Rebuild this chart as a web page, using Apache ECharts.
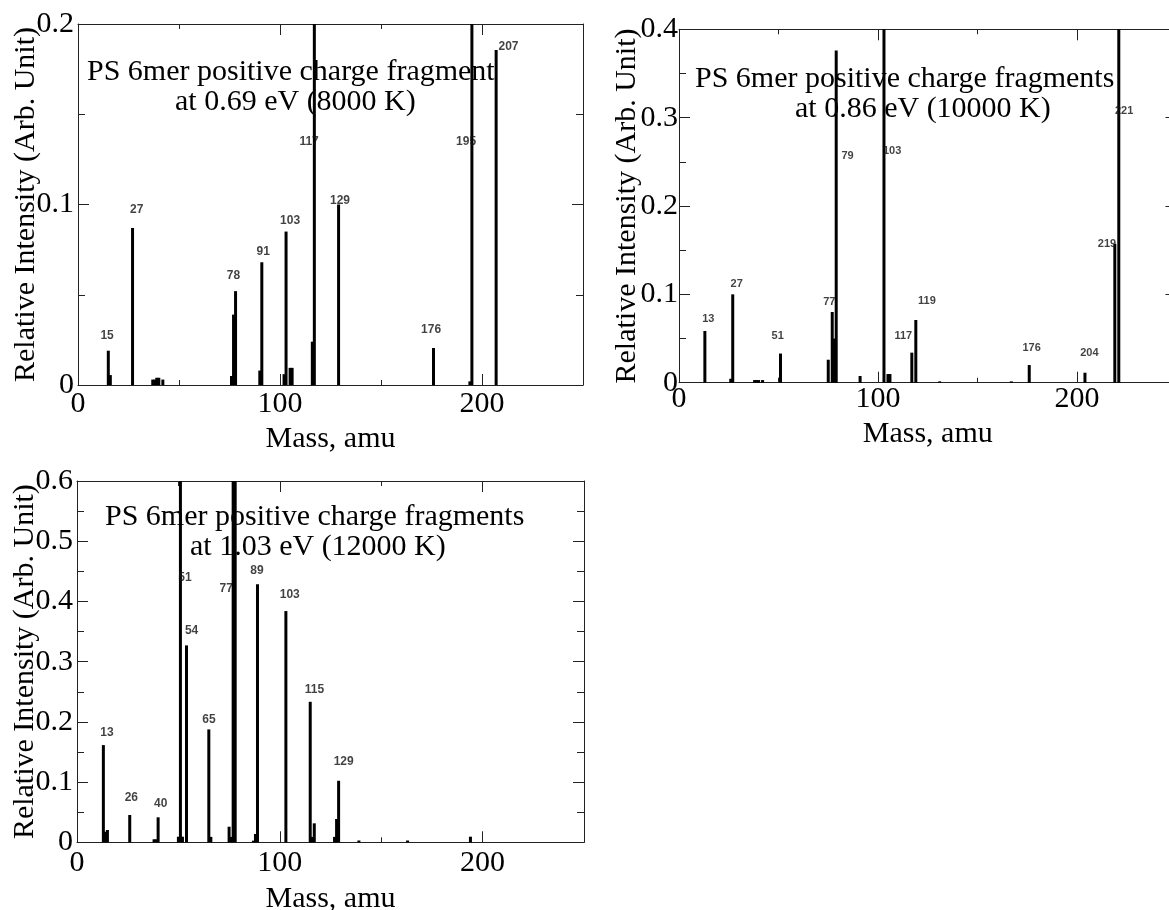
<!DOCTYPE html>
<html><head><meta charset="utf-8">
<script src="https://cdn.jsdelivr.net/npm/echarts@6/dist/echarts.min.js"></script>
<style>html,body{margin:0;padding:0;background:#fff}#c{width:1169px;height:910px}</style>
</head><body><div id="c"></div>
<script>
// ---------- Panel 1: 0.69 eV (8000 K) ----------
const mass1  = [15, 16, 27, 37, 38, 39, 40, 42, 76, 77, 78, 90, 91, 102, 103, 105, 106, 116, 117, 129, 176, 194, 195, 207];
const inten1 = [0.019, 0.0055, 0.087, 0.003, 0.003, 0.004, 0.004, 0.003, 0.005, 0.039, 0.052, 0.008, 0.068, 0.006, 0.085, 0.0095, 0.0095, 0.024, 0.25, 0.1, 0.0205, 0.002, 0.25, 0.1856];
const peakLabels1 = [[14.4,0.0271,'15'],[29.1,0.097,'27'],[77,0.0604,'78'],[91.7,0.0737,'91'],[105,0.0909,'103'],[114.4,0.1346,'117'],[129.7,0.102,'129'],[174.8,0.0305,'176'],[192.1,0.1346,'195'],[213.1,0.1875,'207']];
const title1 = ['PS 6mer positive charge fragment', 'at 0.69 eV (8000 K)'];
const yMax1 = 0.2;

// ---------- Panel 2: 0.86 eV (10000 K) ----------
const mass2  = [13, 26, 27, 38, 39, 40, 42, 51, 75, 77, 78, 79, 91, 103, 105, 106, 117, 119, 131, 167, 176, 204, 219, 221];
const inten2 = [0.0585, 0.0045, 0.1, 0.003, 0.003, 0.003, 0.003, 0.033, 0.026, 0.08, 0.05, 0.376, 0.0076, 0.45, 0.0098, 0.0098, 0.034, 0.071, 0.0015, 0.0015, 0.02, 0.0113, 0.157, 0.45];
const peakLabels2 = [[14.7,0.0724,'13'],[29,0.1117,'27'],[49.6,0.0531,'51'],[75.5,0.0913,'77'],[84.7,0.2564,'79'],[107.1,0.262,'103'],[112.7,0.0531,'117'],[124.6,0.0921,'119'],[177.2,0.0395,'176'],[206.2,0.0338,'204'],[215.1,0.1572,'219'],[223.7,0.3078,'221']];
const title2 = ['PS 6mer positive charge fragments', 'at 0.86 eV (10000 K)'];
const yMax2 = 0.4;

// ---------- Panel 3: 1.03 eV (12000 K) ----------
const mass3  = [13, 14, 15, 26, 38, 39, 40, 50, 51, 52, 54, 65, 66, 75, 76, 77, 78, 87, 88, 89, 103, 115, 116, 117, 127, 128, 129, 139, 163, 194];
const inten3 = [0.1614, 0.0176, 0.0204, 0.0453, 0.005, 0.005, 0.0415, 0.0093, 0.7, 0.0093, 0.327, 0.1875, 0.009, 0.0259, 0.009, 0.7, 0.7, 0.0027, 0.0138, 0.4286, 0.384, 0.2333, 0.009, 0.0315, 0.009, 0.0387, 0.1022, 0.003, 0.003, 0.0093];
const peakLabels3 = [[14.8,0.182,'13'],[26.8,0.0743,'26'],[41.3,0.0635,'40'],[53.2,0.44,'51'],[56.5,0.3514,'54'],[65.1,0.2043,'65'],[73.6,0.4208,'77'],[88.7,0.4518,'89'],[104.9,0.4112,'103'],[117.1,0.254,'115'],[131.5,0.134,'129']];
const title3 = ['PS 6mer positive charge fragments', 'at 1.03 eV (12000 K)'];
const yMax3 = 0.6;

const xMin = 0, xMax = 250;
const xLabelName = 'Mass, amu';
const yLabelName = 'Relative Intensity (Arb. Unit)';

// ---------- layout / style ----------
const SERIF = '"Liberation Serif", "Times New Roman", serif';
const SANS = '"Liberation Sans", Arial, sans-serif';
const INK = '#222';
const panels = [
  {mass: mass1, inten: inten1, labels: peakLabels1, title: title1, yMax: yMax1,
   grid: {left: 78, top: 24, width: 505, height: 361}, yMargin: 4, xMargin: 4, xGap: 39, yGap: 37,
   titlePos: [[87, 72], [175, 102]], labelSize: 12},
  {mass: mass2, inten: inten2, labels: peakLabels2, title: title2, yMax: yMax2,
   grid: {left: 679, top: 29.3, width: 497.5, height: 353.4}, yMargin: 1, xMargin: 1, xGap: 36, yGap: 37,
   titlePos: [[695, 79], [795, 109]], labelSize: 11},
  {mass: mass3, inten: inten3, labels: peakLabels3, title: title3, yMax: yMax3,
   grid: {left: 77, top: 481, width: 507, height: 361.3}, yMargin: 4, xMargin: 6, xGap: 42, yGap: 37,
   titlePos: [[105, 517], [190, 547]], labelSize: 12}
];

const grids = [], xAxes = [], yAxes = [], series = [], graphics = [];
const lineStyle = {color: INK, width: 1};
panels.forEach((p, g) => {
  grids.push(Object.assign({containLabel: false, outerBoundsMode: 'none'}, p.grid));
  const baseX = {gridIndex: g, type: 'value', min: xMin, max: xMax, splitLine: {show: false}, minorTick: {show: false}};
  xAxes.push(Object.assign({}, baseX, {
    position: 'bottom', interval: 100,
    axisLine: {show: true, onZero: false, lineStyle},
    axisTick: {show: true, inside: true, length: 11, lineStyle},
    axisLabel: {show: true, showMaxLabel: false, margin: p.xMargin, fontSize: 30, fontFamily: SERIF, color: '#000'},
    name: xLabelName, nameLocation: 'middle', nameGap: p.xGap, nameMoveOverlap: false,
    nameTextStyle: {fontSize: 30, fontFamily: SERIF, color: '#000'}
  }));
  xAxes.push(Object.assign({}, baseX, {
    position: 'bottom', interval: 50,
    axisLine: {show: false, onZero: false},
    axisTick: {show: true, inside: true, length: 5, lineStyle},
    axisLabel: {show: false}
  }));
  xAxes.push(Object.assign({}, baseX, {
    position: 'top', interval: 100,
    axisLine: {show: true, onZero: false, lineStyle},
    axisTick: {show: true, inside: true, length: 11, lineStyle},
    axisLabel: {show: false}
  }));
  xAxes.push(Object.assign({}, baseX, {
    position: 'top', interval: 50,
    axisLine: {show: false, onZero: false},
    axisTick: {show: true, inside: true, length: 5, lineStyle},
    axisLabel: {show: false}
  }));
  const baseY = {gridIndex: g, type: 'value', min: 0, max: p.yMax, interval: 0.1, splitLine: {show: false},
    axisLine: {show: true, onZero: false, lineStyle},
    axisTick: {show: true, inside: true, length: 11, lineStyle},
    minorTick: {show: true, splitNumber: 2, length: 7, lineStyle}, minorSplitLine: {show: false}};
  yAxes.push(Object.assign({}, baseY, {
    position: 'left',
    axisLabel: {show: true, margin: p.yMargin, fontSize: 30, fontFamily: SERIF, color: '#000'},
    name: yLabelName, nameLocation: 'middle', nameGap: p.yGap, nameRotate: 90, nameMoveOverlap: false,
    nameTextStyle: {fontSize: 30, fontFamily: SERIF, color: '#000'}
  }));
  yAxes.push(Object.assign({}, baseY, {position: 'right', axisLabel: {show: false}}));

  series.push({
    type: 'bar', xAxisIndex: 4 * g, yAxisIndex: 2 * g,
    data: p.mass.map((m, i) => [m, p.inten[i]]),
    barWidth: 3, clip: true, silent: true,
    itemStyle: {color: '#000'}, z: 3
  });
  series.push({
    type: 'scatter', xAxisIndex: 4 * g, yAxisIndex: 2 * g,
    data: p.labels.map(l => [l[0], l[1], l[2]]),
    symbol: 'circle', symbolSize: 1, itemStyle: {color: 'rgba(0,0,0,0)'}, silent: true, z: 4,
    label: {show: true, position: 'inside', formatter: q => q.value[2],
      fontSize: p.labelSize, fontWeight: 'bold', fontFamily: SANS, color: '#111'}
  });
  p.title.forEach((t, k) => {
    graphics.push({type: 'text', x: p.titlePos[k][0], y: p.titlePos[k][1], z: 1,
      style: {text: t, font: '30px ' + SERIF, fill: '#000', textAlign: 'left', verticalAlign: 'middle'}});
  });
});

const chart = echarts.init(document.getElementById('c'), null, {renderer: 'canvas'});
chart.setOption({
  animation: false,
  backgroundColor: '#fff',
  grid: grids, xAxis: xAxes, yAxis: yAxes, series: series, graphic: graphics
});
</script></body></html>
